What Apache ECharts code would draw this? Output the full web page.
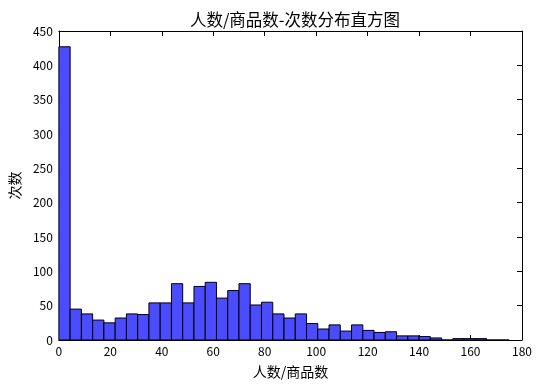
<!DOCTYPE html>
<html>
<head>
<meta charset="utf-8">
<script src="https://cdn.jsdelivr.net/npm/echarts@6/dist/echarts.min.js"></script>
<style>html,body{margin:0;padding:0;background:#fff;}#c{width:542px;height:388px;}</style>
</head>
<body>
<div id="c"></div>
<script>
// Histogram data: 40 equal bins over [binMin, binMax]
var binMin = 0;
var binMax = 175;
var counts = [427, 45, 38, 29, 25, 32, 38, 37, 54, 54,
              82, 54, 78, 84, 61, 72, 82, 51, 55, 38,
              32, 38, 24, 16, 22, 13, 22, 14, 11, 12,
              6, 6, 5, 3, 0, 2, 2, 2, 0, 0];
var xTicks = [0, 20, 40, 60, 80, 100, 120, 140, 160, 180];
var yTicks = [0, 50, 100, 150, 200, 250, 300, 350, 400, 450];

var binWidth = (binMax - binMin) / counts.length;
var bins = counts.map(function (c, i) {
  return [binMin + i * binWidth, binMin + (i + 1) * binWidth, c];
});

var font = '"Noto Sans CJK SC", "DejaVu Sans", sans-serif';
var chart = echarts.init(document.getElementById('c'), null, {renderer: 'canvas'});
var axisCommon = {
  axisLine: {show: true, onZero: false, lineStyle: {color: '#000', width: 1}},
  axisTick: {show: true, inside: true, length: 5, lineStyle: {color: '#000'}},
  splitLine: {show: false}
};
chart.setOption({
  animation: false,
  title: {
    text: '人数/商品数-次数分布直方图',
    left: 290, top: 6, textAlign: 'center',
    textStyle: {fontFamily: font, fontSize: 16.5, fontWeight: 'normal', color: '#000'}
  },
  grid: {left: 57, right: 20, top: 31, bottom: 48},
  xAxis: [
    Object.assign({
      type: 'value', min: xTicks[0], max: xTicks[xTicks.length - 1], interval: 20,
      position: 'bottom',
      name: '人数/商品数', nameLocation: 'middle', nameGap: 25,
      nameTextStyle: {fontFamily: font, fontSize: 14, color: '#000'},
      axisLabel: {fontFamily: font, fontSize: 12, color: '#000', margin: 5}
    }, axisCommon),
    Object.assign({
      type: 'value', min: xTicks[0], max: xTicks[xTicks.length - 1], interval: 20,
      position: 'top', axisLabel: {show: false}
    }, axisCommon)
  ],
  yAxis: [
    Object.assign({
      type: 'value', min: yTicks[0], max: yTicks[yTicks.length - 1], interval: 50,
      position: 'left',
      name: '次数', nameLocation: 'middle', nameGap: 36, nameRotate: 90,
      nameTextStyle: {fontFamily: font, fontSize: 14, color: '#000'},
      axisLabel: {fontFamily: font, fontSize: 12, color: '#000', margin: 6}
    }, axisCommon),
    Object.assign({
      type: 'value', min: yTicks[0], max: yTicks[yTicks.length - 1], interval: 50,
      position: 'right', axisLabel: {show: false}
    }, axisCommon)
  ],
  series: [{
    type: 'custom',
    xAxisIndex: 0, yAxisIndex: 0,
    data: bins,
    renderItem: function (params, api) {
      var p0 = api.coord([api.value(0), api.value(2)]);
      var p1 = api.coord([api.value(1), 0]);
      return {
        type: 'rect',
        shape: {x: p0[0], y: p0[1], width: p1[0] - p0[0], height: p1[1] - p0[1]},
        style: {fill: '#4b4bff', stroke: '#000', lineWidth: 1}
      };
    },
    encode: {x: [0, 1], y: 2}
  }]
});
</script>
</body>
</html>
